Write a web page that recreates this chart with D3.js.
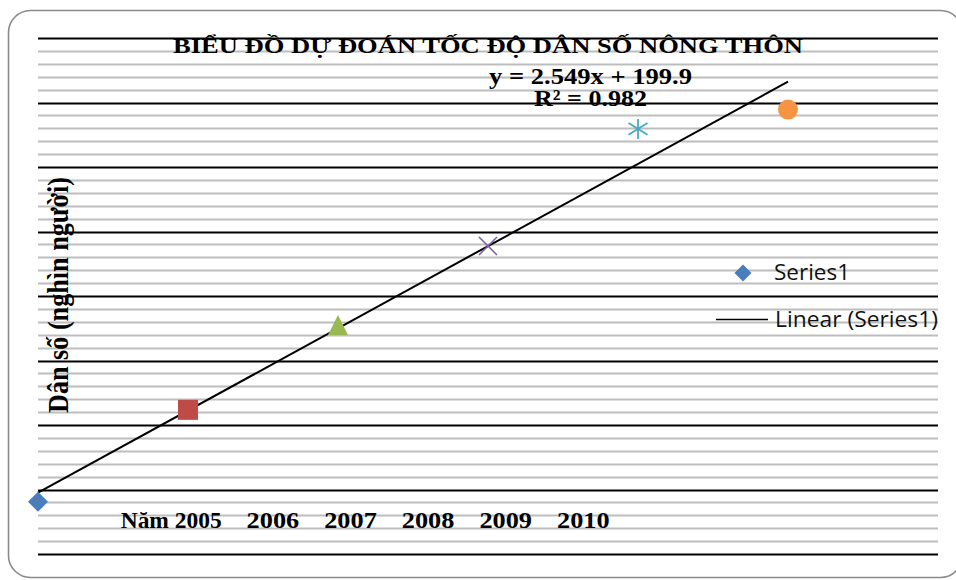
<!DOCTYPE html>
<html>
<head>
<meta charset="utf-8">
<script src="https://cdn.jsdelivr.net/npm/d3@7"></script>
<style>
  html, body { margin: 0; padding: 0; background: #fff; }
  svg { display: block; }
</style>
</head>
<body>
<svg id="chart" width="956" height="580"></svg>
<script>
// Rural population forecast, thousand people, by year index (0 = 2005)
const yearIndex = [0, 1, 2, 3, 4, 5];
const population = [199.62, 202.47, 205.10, 207.55, 211.18, 211.78];
const markerShapes = ["diamond", "square", "triangle", "cross", "star", "circle"];
const markerColors = ["#4a7ebb", "#be4b48", "#98b954", "#7d60a0", "#46aac5", "#f59443"];
const xLabels = ["Năm 2005", "2006", "2007", "2008", "2009", "2010"];

// Linear trendline fitted to the series
const trendSlope = 2.549;
const trendIntercept = 199.9;
const rSquared = 0.982;

const titleText = "BIỂU ĐỒ DỰ ĐOÁN TỐC ĐỘ DÂN SỐ NÔNG THÔN";
const yTitleText = "Dân số (nghìn người)";

const svg = d3.select("#chart");
const serif = "'Liberation Serif', 'Times New Roman', serif";
const sans = "'Open Sans', 'Noto Sans', sans-serif";

// Chart frame
svg.append("rect")
  .attr("x", 8.5).attr("y", 10.5)
  .attr("width", 954).attr("height", 567)
  .attr("rx", 22).attr("ry", 22)
  .attr("fill", "#fff")
  .attr("stroke", "#8a8a8a")
  .attr("stroke-width", 1.6);

const x = d3.scaleLinear().domain([0, 6]).range([38, 938]);
const y = d3.scaleLinear().domain([198, 214]).range([554, 38]);

// Minor gridlines (every 0.4) and major gridlines (every 2)
const minorTicks = d3.range(198, 214.001, 0.4).filter(v => Math.abs(v / 2 - Math.round(v / 2)) > 1e-6);
const majorTicks = d3.range(198, 214.001, 2);

svg.append("g").selectAll("line").data(minorTicks).join("line")
  .attr("x1", x(0)).attr("x2", x(6))
  .attr("y1", d => Math.round(y(d)) + 0.5).attr("y2", d => Math.round(y(d)) + 0.5)
  .attr("stroke", "#bdbdbd").attr("stroke-width", 2);

svg.append("g").selectAll("line").data(majorTicks).join("line")
  .attr("x1", x(0)).attr("x2", x(6))
  .attr("y1", d => Math.round(y(d)) + 0.5).attr("y2", d => Math.round(y(d)) + 0.5)
  .attr("stroke", "#000").attr("stroke-width", 2);

// Trendline from the regression equation
const trendX = d3.extent(yearIndex);
svg.append("line")
  .attr("x1", x(trendX[0])).attr("y1", y(trendSlope * trendX[0] + trendIntercept))
  .attr("x2", x(trendX[1])).attr("y2", y(trendSlope * trendX[1] + trendIntercept))
  .attr("stroke", "#000").attr("stroke-width", 2);

// Marker drawing
function drawMarker(g, shape, color, size) {
  const h = size / 2;
  if (shape === "diamond") {
    g.append("path").attr("d", `M0,${-h}L${h},0L0,${h}L${-h},0Z`).attr("fill", color);
  } else if (shape === "square") {
    g.append("rect").attr("x", -h).attr("y", -h).attr("width", size).attr("height", size).attr("fill", color);
  } else if (shape === "triangle") {
    g.append("path").attr("d", `M0,${-h}L${h},${h}L${-h},${h}Z`).attr("fill", color);
  } else if (shape === "circle") {
    g.append("circle").attr("r", h).attr("fill", color);
  } else if (shape === "cross") {
    const k = h * 0.9;
    g.append("path").attr("d", `M${-k},${-k}L${k},${k}M${-k},${k}L${k},${-k}`)
      .attr("stroke", color).attr("stroke-width", 1.6).attr("fill", "none");
  } else if (shape === "star") {
    const k = h * 0.95;
    g.append("path").attr("d", `M0,${-h}L0,${h}M${-k},${-k * 0.62}L${k},${k * 0.62}M${-k},${k * 0.62}L${k},${-k * 0.62}`)
      .attr("stroke", color).attr("stroke-width", 1.8).attr("fill", "none");
  }
}

const points = yearIndex.map((d, i) => ({ x: d, y: population[i], shape: markerShapes[i], color: markerColors[i] }));
svg.append("g").selectAll("g").data(points).join("g")
  .attr("transform", d => `translate(${x(d.x)},${y(d.y)})`)
  .each(function (d) { drawMarker(d3.select(this), d.shape, d.color, 20); });

// Title, equation and R²
svg.append("text")
  .attr("x", 173).attr("y", 53)
  .attr("textLength", 630).attr("lengthAdjust", "spacingAndGlyphs")
  .attr("font-family", serif).attr("font-weight", "bold").attr("font-size", 22)
  .text(titleText);

svg.append("text")
  .attr("x", 489).attr("y", 83.5)
  .attr("textLength", 203).attr("lengthAdjust", "spacingAndGlyphs")
  .attr("font-family", serif).attr("font-weight", "bold").attr("font-size", 22.5)
  .text(`y = ${trendSlope}x + ${trendIntercept}`);

svg.append("text")
  .attr("x", 534).attr("y", 105.5)
  .attr("textLength", 113).attr("lengthAdjust", "spacingAndGlyphs")
  .attr("font-family", serif).attr("font-weight", "bold").attr("font-size", 22.5)
  .text(`R² = ${rSquared}`);

// Y axis title
svg.append("text")
  .attr("transform", "translate(68,413) rotate(-90)")
  .attr("textLength", 236).attr("lengthAdjust", "spacingAndGlyphs")
  .attr("font-family", serif).attr("font-weight", "bold").attr("font-size", 29)
  .text(yTitleText);

// Year labels along the bottom
const labelStart = 120.7, firstWidth = 101, yearWidth = 52.6, yearStep = 77.6;
svg.append("g").selectAll("text").data(xLabels).join("text")
  .attr("x", (d, i) => i === 0 ? labelStart : labelStart + 48.3 + i * yearStep)
  .attr("y", 528)
  .attr("textLength", (d, i) => i === 0 ? firstWidth : yearWidth)
  .attr("lengthAdjust", "spacingAndGlyphs")
  .attr("font-family", serif).attr("font-weight", "bold").attr("font-size", 22.5)
  .text(d => d);

// Legend
const legend = svg.append("g");
const legendMarker = legend.append("g").attr("transform", "translate(743,273)");
drawMarker(legendMarker, "diamond", markerColors[0], 17);
legend.append("text")
  .attr("x", 774).attr("y", 280)
  .attr("textLength", 76).attr("lengthAdjust", "spacingAndGlyphs")
  .attr("font-family", sans).attr("font-size", 21).attr("fill", "#111")
  .text("Series1");
legend.append("line")
  .attr("x1", 716).attr("x2", 768).attr("y1", 319.5).attr("y2", 319.5)
  .attr("stroke", "#000").attr("stroke-width", 1.6);
legend.append("text")
  .attr("x", 775).attr("y", 327)
  .attr("textLength", 163).attr("lengthAdjust", "spacingAndGlyphs")
  .attr("font-family", sans).attr("font-size", 21).attr("fill", "#111")
  .text("Linear (Series1)");
</script>
</body>
</html>
